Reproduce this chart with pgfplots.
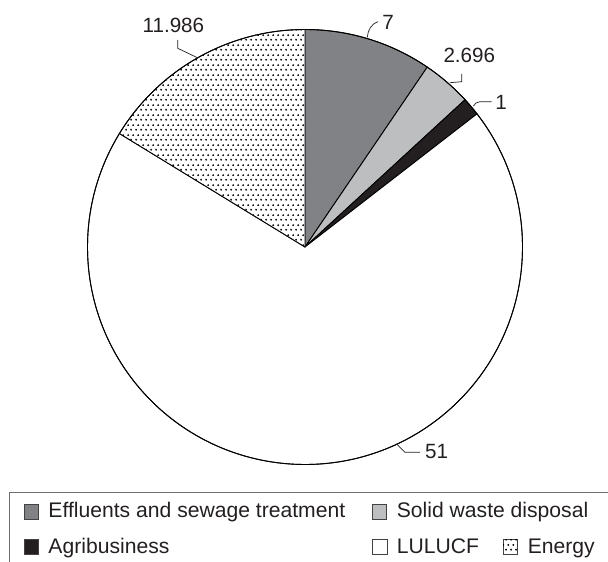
\documentclass[border=0pt]{standalone}
\usepackage{fontspec}
\setmainfont{Liberation Sans}
\usepackage{pgfplots}
\pgfplotsset{compat=1.18}
\usepackage{pgfplotstable}
\usetikzlibrary{patterns.meta}

\definecolor{txt}{HTML}{231F20}
\definecolor{effl}{HTML}{808285}
\definecolor{solid}{HTML}{BCBEC0}
\definecolor{agri}{HTML}{231F20}
\definecolor{frame}{HTML}{6D6E71}

% dotted fill of the Energy slice
\pgfdeclarepattern{
  name=piedots, type=uncolored,
  bottom left={\pgfpoint{0bp}{0bp}}, top right={\pgfpoint{5bp}{10bp}},
  tile size={\pgfpoint{5bp}{10bp}},
  code={\pgfpathcircle{\pgfpoint{1.25bp}{2.5bp}}{1.15bp}
        \pgfpathcircle{\pgfpoint{3.75bp}{7.5bp}}{1.15bp}\pgfusepath{fill}}}

% slices clockwise from 12 o'clock
\pgfplotstableread{
value
7
2.696
1
51
11.986
}\piedata

\newcommand\slice[3]{\filldraw[draw=black, line width=0.9bp, #3]
  (axis cs:305,315) -- ++(#1:217.5bp) arc[start angle=#1, end angle=#2, radius=217.5bp] -- cycle;}
\newcommand\legsq[3]{\filldraw[draw=txt!85, line width=0.6bp, #3]
  (axis cs:#1,#2) rectangle ++(14.5bp,14.5bp);}

\begin{document}
\begin{tikzpicture}
\pgfplotstablegetelem{0}{value}\of\piedata\let\vA\pgfplotsretval
\pgfplotstablegetelem{1}{value}\of\piedata\let\vB\pgfplotsretval
\pgfplotstablegetelem{2}{value}\of\piedata\let\vC\pgfplotsretval
\pgfplotstablegetelem{3}{value}\of\piedata\let\vD\pgfplotsretval
\pgfplotstablegetelem{4}{value}\of\piedata\let\vE\pgfplotsretval
\pgfmathsetmacro\tot{\vA+\vB+\vC+\vD+\vE}
\pgfmathsetmacro\k{360/\tot}
\pgfmathsetmacro\aA{90-\vA*\k}
\pgfmathsetmacro\aB{\aA-\vB*\k}
\pgfmathsetmacro\aC{\aB-\vC*\k}
\pgfmathsetmacro\aD{\aC-\vD*\k}
\begin{axis}[
  x=1bp, y=1bp, xmin=0, xmax=608, ymin=0, ymax=562,
  anchor=origin, at={(0,0)},
  hide axis, clip=false,
]
\coordinate (BL) at (axis cs:0,0);
\coordinate (TR) at (axis cs:608,562);

\slice{90}{\aA}{fill=effl}
\slice{\aA}{\aB}{fill=solid}
\slice{\aB}{\aC}{fill=agri}
\slice{\aC}{\aD}{fill=white}
\slice{\aD}{-270}{fill=white, postaction={pattern=piedots, pattern color=black}}
\draw[line width=0.9bp] (axis cs:305,315) circle[radius=217.5bp];

% value labels and leaders
\begin{scope}[txt, line width=0.7bp]
\draw (axis cs:177.7,522) -- (axis cs:177.7,513.7) -- (axis cs:198,504);
\draw (axis cs:367.3,524.7) to[out=85,in=200] (axis cs:378,540.3);
\draw (axis cs:450,479.3) -- (axis cs:461.7,480.3) -- (axis cs:461.7,488);
\draw (axis cs:473.3,456) to[out=50,in=180] (axis cs:480,460.3) -- (axis cs:491.7,460.3);
\draw (axis cs:396.7,118) -- (axis cs:405,109.7) -- (axis cs:420,109.7);
\end{scope}
\begin{scope}[every node/.style={inner sep=0pt, text=txt, font=\fontsize{20.7}{24}\selectfont}]
\node at (axis cs:173.4,536.5) {11.986};
\node at (axis cs:388,540) {7};
\node at (axis cs:469.3,506.2) {2.696};
\node at (axis cs:501,460) {1};
\node at (axis cs:436.7,110) {51};
\end{scope}

% legend
\begin{scope}[every node/.style={inner sep=0pt, text=txt, font=\fontsize{21.2}{24}\selectfont}]
\draw[frame, line width=0.8bp] (axis cs:608,69.3) -- (axis cs:9,69.3) -- (axis cs:9,0);
\legsq{24}{43}{fill=effl}
\node[anchor=base west] at (axis cs:48.3,44.7) {Effluents and sewage treatment};
\legsq{372}{43}{fill=solid}
\node[anchor=base west] at (axis cs:396.7,44.7) {Solid waste disposal};
\legsq{24}{8}{fill=agri}
\node[anchor=base west] at (axis cs:48.3,8.7) {Agribusiness};
\legsq{372.5}{8}{fill=white}
\node[anchor=base west] at (axis cs:396.7,8.7) {LULUCF};
\node[anchor=base east] (en) at (axis cs:595,8.7) {Energy};
\filldraw[draw=txt!85, line width=0.6bp, fill=white, postaction={pattern=piedots, pattern color=black}]
  ([xshift=-24.5bp, yshift=-0.7bp]en.base west) rectangle ++(14.5bp,14.5bp);
\end{scope}
\end{axis}
\pgfresetboundingbox
\path[use as bounding box] (BL) rectangle (TR);
\end{tikzpicture}
\end{document}
